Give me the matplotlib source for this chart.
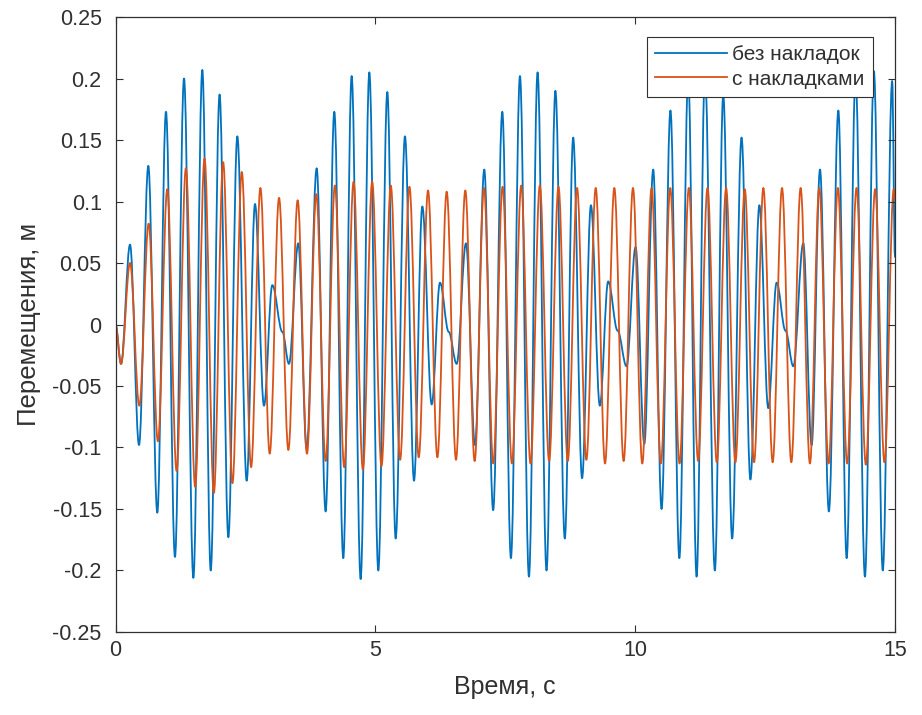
import matplotlib
matplotlib.use("Agg")
import matplotlib.pyplot as plt
from matplotlib.path import Path
from matplotlib.patches import PathPatch
from matplotlib.lines import Line2D
from matplotlib.ticker import FixedLocator, FuncFormatter

plt.rcParams['font.family'] = ['Liberation Sans', 'DejaVu Sans']
plt.rcParams['axes.unicode_minus'] = False

# Turning points (successive maxima / minima) of the response without pads
t_bare = [0.0, 0.106, 0.279, 0.452, 0.631, 0.804, 0.971, 1.144, 1.318, 1.498,
          1.670, 1.832, 2.002, 2.171, 2.344, 2.524, 2.684, 2.857, 3.017, 3.211,
          3.338, 3.517, 3.678, 3.871, 4.043, 4.210, 4.383, 4.544, 4.717, 4.884,
          5.057, 5.230, 5.391, 5.570, 5.744, 5.904, 6.084, 6.244, 6.412, 6.565,
          6.744, 6.917, 7.096, 7.267, 7.443, 7.609, 7.783, 7.956, 8.122, 8.294,
          8.465, 8.646, 8.807, 8.978, 9.149, 9.320, 9.481, 9.662, 9.834, 10.008,
          10.176, 10.347, 10.508, 10.679, 10.850, 11.021, 11.182, 11.343, 11.534, 11.695,
          11.866, 12.047, 12.218, 12.390, 12.561, 12.722, 12.893, 13.044, 13.235, 13.396,
          13.557, 13.728, 13.910, 14.070, 14.241, 14.422, 14.594, 14.765, 14.946, 15.0]
y_bare = [0.0, -0.032, 0.065, -0.098, 0.129, -0.153, 0.173, -0.189, 0.200, -0.206,
          0.207, -0.200, 0.187, -0.173, 0.153, -0.127, 0.098, -0.066, 0.032, -0.006,
          -0.032, 0.066, -0.101, 0.127, -0.152, 0.173, -0.190, 0.202, -0.207, 0.205,
          -0.200, 0.189, -0.174, 0.153, -0.127, 0.096, -0.065, 0.034, -0.006, -0.032,
          0.066, -0.098, 0.126, -0.151, 0.173, -0.190, 0.202, -0.205, 0.205, -0.200,
          0.190, -0.174, 0.152, -0.125, 0.097, -0.066, 0.035, -0.005, -0.034, 0.063,
          -0.097, 0.126, -0.150, 0.174, -0.190, 0.202, -0.205, 0.205, -0.200, 0.187,
          -0.174, 0.152, -0.126, 0.097, -0.068, 0.034, -0.005, -0.034, 0.066, -0.098,
          0.126, -0.152, 0.174, -0.190, 0.202, -0.205, 0.206, -0.200, 0.198, 0.055]

# Turning points of the response with pads
t_pads = [0.0, 0.106, 0.279, 0.458, 0.637, 0.816, 0.996, 1.175, 1.354, 1.533,
          1.713, 1.892, 2.071, 2.250, 2.430, 2.609, 2.788, 2.967, 3.147, 3.326,
          3.505, 3.684, 3.864, 4.043, 4.222, 4.401, 4.581, 4.760, 4.939, 5.118,
          5.297, 5.477, 5.656, 5.835, 6.014, 6.194, 6.373, 6.552, 6.731, 6.911,
          7.090, 7.269, 7.448, 7.628, 7.807, 7.986, 8.165, 8.344, 8.524, 8.703,
          8.882, 9.061, 9.241, 9.420, 9.599, 9.778, 9.958, 10.137, 10.316, 10.495,
          10.675, 10.854, 11.033, 11.212, 11.392, 11.571, 11.750, 11.929, 12.109, 12.288,
          12.467, 12.646, 12.826, 13.005, 13.184, 13.363, 13.543, 13.722, 13.901, 14.080,
          14.260, 14.439, 14.618, 14.797, 14.976, 15.0]
y_pads = [0.0, -0.032, 0.050, -0.066, 0.082, -0.095, 0.110, -0.119, 0.127, -0.132,
          0.135, -0.137, 0.132, -0.129, 0.124, -0.116, 0.111, -0.105, 0.103, -0.102,
          0.101, -0.105, 0.106, -0.111, 0.113, -0.116, 0.116, -0.118, 0.116, -0.115,
          0.113, -0.110, 0.112, -0.108, 0.109, -0.108, 0.108, -0.110, 0.109, -0.111,
          0.111, -0.113, 0.112, -0.113, 0.113, -0.113, 0.113, -0.111, 0.112, -0.111,
          0.111, -0.110, 0.111, -0.113, 0.111, -0.111, 0.111, -0.113, 0.111, -0.113,
          0.111, -0.113, 0.111, -0.111, 0.111, -0.112, 0.111, -0.112, 0.110, -0.112,
          0.111, -0.112, 0.111, -0.112, 0.111, -0.113, 0.111, -0.113, 0.111, -0.113,
          0.111, -0.114, 0.110, -0.112, 0.110, 0.102]

series_labels = ['без накладок', 'с накладками']
series_colors = ['#0072BD', '#D95319']
x_ticks = [0, 5, 10, 15]
y_ticks = [-0.25, -0.2, -0.15, -0.1, -0.05, 0, 0.05, 0.1, 0.15, 0.2, 0.25]
x_label = 'Время, с'
y_label = 'Перемещения, м'

TEXT = '#303030'


def oscillation_path(ts, ys, a=0.3634):
    """Smooth path through turning points: each half-wave is a cubic
    Bezier with horizontal tangents at both ends (close to a half cosine)."""
    verts = [(ts[0], ys[0])]
    codes = [Path.MOVETO]
    for t0, y0, t1, y1 in zip(ts[:-1], ys[:-1], ts[1:], ys[1:]):
        d = t1 - t0
        verts += [(t0 + a * d, y0), (t1 - a * d, y1), (t1, y1)]
        codes += [Path.CURVE4] * 3
    return Path(verts, codes)


fig = plt.figure(figsize=(9.22, 7.15), dpi=100)
ax = fig.add_axes([0.1253, 0.1161, 0.8454, 0.8601])

for ts, ys, col in [(t_bare, y_bare, series_colors[0]),
                    (t_pads, y_pads, series_colors[1])]:
    patch = PathPatch(oscillation_path(ts, ys), facecolor='none',
                      edgecolor=col, lw=1.3, capstyle='round',
                      joinstyle='round')
    ax.add_patch(patch)

ax.set_xlim(x_ticks[0], x_ticks[-1])
ax.set_ylim(y_ticks[0], y_ticks[-1])
ax.xaxis.set_major_locator(FixedLocator(x_ticks))
ax.yaxis.set_major_locator(FixedLocator(y_ticks))
ax.xaxis.set_major_formatter(FuncFormatter(lambda v, p: '%g' % v))
ax.yaxis.set_major_formatter(FuncFormatter(lambda v, p: '%g' % v))

ax.tick_params(direction='in', top=True, right=True, length=5, width=0.8,
               colors=TEXT, labelsize=15.5)
ax.tick_params(axis='y', pad=10)
ax.tick_params(axis='x', pad=6)
for sp in ax.spines.values():
    sp.set_color(TEXT)
    sp.set_linewidth(0.9)

ax.set_xlabel(x_label, fontsize=18, color=TEXT, labelpad=10)
ax.set_ylabel(y_label, fontsize=18.5, color=TEXT, labelpad=8)

handles = [Line2D([], [], color=c, lw=1.3) for c in series_colors]
leg = ax.legend(handles, series_labels, loc='upper right',
                bbox_to_anchor=(0.9718, 0.9675), borderaxespad=0,
                fontsize=15, handlelength=3.45, handletextpad=0.25,
                borderpad=0.4, labelspacing=0.25, fancybox=False,
                framealpha=1, edgecolor=TEXT)
leg.get_frame().set_linewidth(0.8)
for txt in leg.get_texts():
    txt.set_color(TEXT)

fig.savefig('out.png', dpi=100, facecolor='white')
